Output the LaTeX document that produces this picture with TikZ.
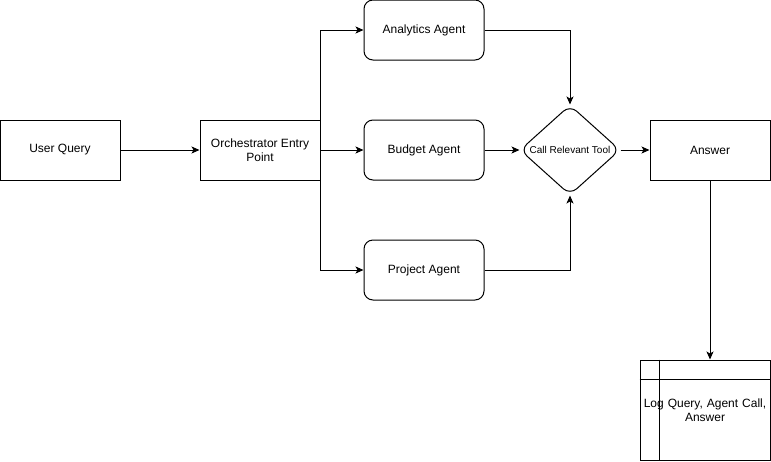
\documentclass[tikz,border=0pt]{standalone}
\usepackage{fontspec}
\setmainfont{Liberation Sans}
\usetikzlibrary{shapes.geometric,arrows.meta}
\begin{document}
\begin{tikzpicture}[x=1pt,y=-1pt,
  every node/.style={font=\fontsize{12}{14}\selectfont},
  box/.style={draw,line width=1pt,minimum width=120pt,minimum height=60pt,inner sep=0pt,align=center},
  agent/.style={box,rounded corners=9pt},
  dec/.style={draw,line width=1pt,shape=diamond,aspect=1.1,minimum width=100pt,minimum height=90pt,inner sep=0pt,rounded corners=9pt,font=\fontsize{10}{12}\selectfont},
  store/.style={draw,line width=1pt,minimum width=130pt,minimum height=100pt,inner sep=0pt,align=center,text width=126pt},
  conn/.style={line width=1pt,-{Stealth[length=8pt,width=7pt,inset=2pt]}}]
\useasboundingbox (0,0) rectangle (771,461);
\node[box] (user) at (60,150) {User Query};
\node[box] (orch) at (260,150) {Orchestrator Entry\\Point};
\node[agent] (ana) at (424,30) {Analytics Agent};
\node[agent] (bud) at (424,150) {Budget Agent};
\node[agent] (proj) at (424,270) {Project Agent};
\node[dec] (tool) at (570,150) {Call Relevant Tool};
\node[box] (ans) at (710,150) {Answer};
\node[store] (log) at (705,410) {Log Query, Agent Call,\\Answer};
\draw[line width=1pt] ([xshift=20pt]log.north west) -- ([xshift=20pt]log.south west);
\draw[line width=1pt] ([yshift=-20pt]log.north west) -- ([yshift=-20pt]log.north east);
\draw[conn] (user) -- (orch);
\draw[conn] (orch) -- (bud);
\draw[conn] (orch.east) -- (orch.east |- ana) -- (ana);
\draw[conn] (orch.east) -- (orch.east |- proj) -- (proj);
\draw[conn] (ana.east) -| (tool.north);
\draw[conn] (proj.east) -| (tool.south);
\draw[conn] (bud) -- (tool);
\draw[conn] (tool) -- (ans);
\draw[conn] (ans.south) -- (ans.south |- log.north);
\end{tikzpicture}
\end{document}
